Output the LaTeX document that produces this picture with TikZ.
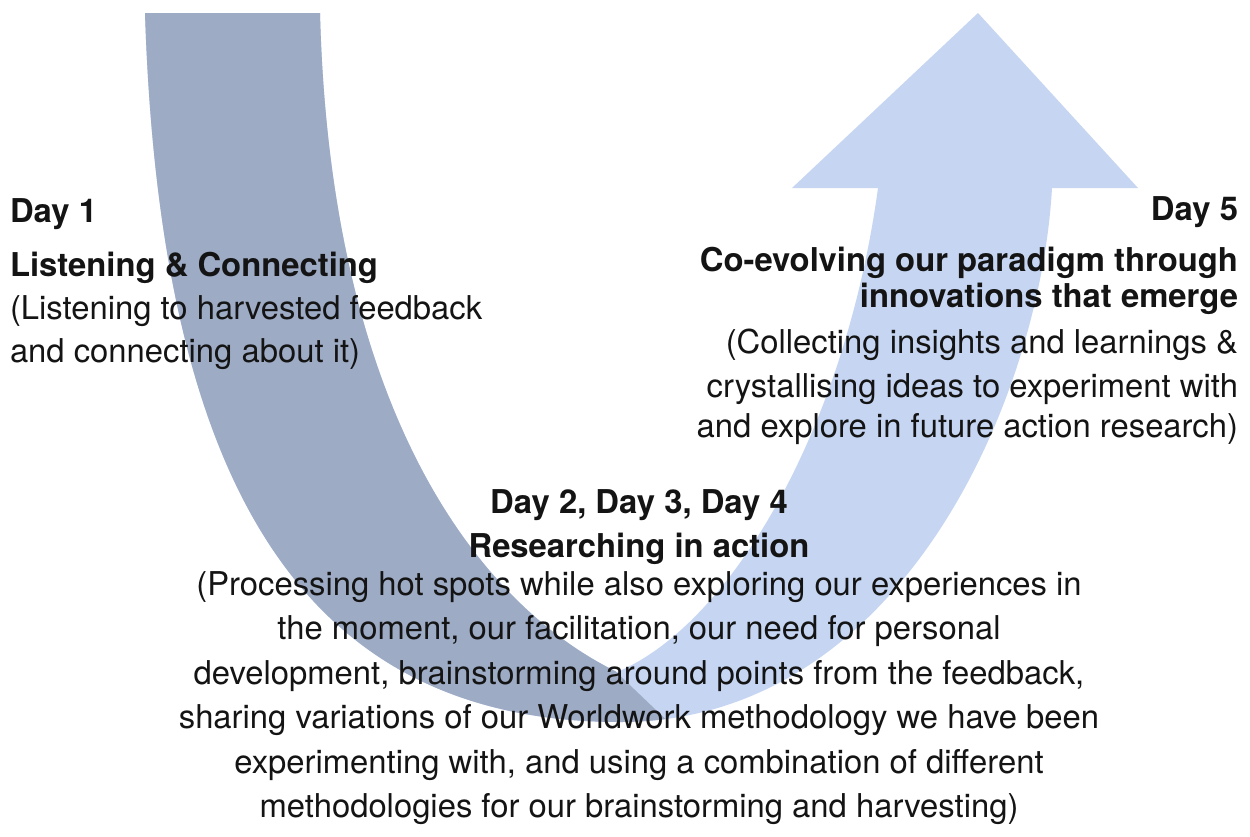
\documentclass[tikz,border=0pt]{standalone}
\usepackage{fontspec}
\setmainfont{TeX Gyre Heros}
\definecolor{darkband}{HTML}{9DABC5}
\definecolor{lightband}{HTML}{C6D6F2}
\definecolor{txt}{HTML}{141414}
\begin{document}
\begin{tikzpicture}[x=1pt,y=-1pt,
  lbl/.style={inner sep=0pt,outer sep=0pt,text=txt,font=\fontsize{32.8}{40}\selectfont},
  hd/.style={lbl,font=\fontsize{32.8}{40}\selectfont\bfseries},
  lft/.style={anchor=base west},
  rgt/.style={anchor=base east},
  ctr/.style={anchor=base}]
\useasboundingbox (0,0) rectangle (1250,836);
\fill[white] (0,0) rectangle (1250,836);
\def\arrowpath{
  (145,13) .. controls (160,480) and (300,722) .. (620,722)
  .. controls (900,722) and (1040,400) .. (1052,188)
  -- (1138,188) -- (978,13) -- (792,188) -- (878,188)
  .. controls (845,430) and (730,625) .. (617,672)
  .. controls (470,600) and (330,400) .. (320,13)
  -- cycle}
\fill[lightband] \arrowpath;
\begin{scope}
  \clip (0,0) -- (612,0) -- (612,668) -- (700,752) -- (0,752) -- cycle;
  \fill[darkband] \arrowpath;
\end{scope}
% Left block
\node[hd,lft] (l1) at (10,222) {Day 1};
\node[hd,lft] (l2) at (10,276) {Listening \& Connecting};
\node[lbl,lft] (l3) at (10,319) {(Listening to harvested feedback};
\node[lbl,lft] (l4) at (10,362) {and connecting about it)};
% Right block
\node[hd,rgt] (r1) at (1238,220) {Day 5};
\node[hd,rgt] (r2) at (1238,271) {Co-evolving our paradigm through};
\node[hd,rgt] (r3) at (1238,307) {innovations that emerge};
\node[lbl,rgt] (r4) at (1238,353) {(Collecting insights and learnings \&};
\node[lbl,rgt] (r5) at (1238,397) {crystallising ideas to experiment with};
\node[lbl,rgt] (r6) at (1238,437) {and explore in future action research)};
% Centre block
\node[hd,ctr] (c1) at (639,513) {Day 2, Day 3, Day 4};
\node[hd,ctr] (c2) at (639,557) {Researching in action};
\node[lbl,ctr] (c3) at (639,595) {(Processing hot spots while also exploring our experiences in};
\node[lbl,ctr] (c4) at (639,639) {the moment, our facilitation, our need for personal};
\node[lbl,ctr] (c5) at (639,684) {development, brainstorming around points from the feedback,};
\node[lbl,ctr] (c6) at (639,728) {sharing variations of our Worldwork methodology we have been};
\node[lbl,ctr] (c7) at (639,773) {experimenting with, and using a combination of different};
\node[lbl,ctr] (c8) at (639,817) {methodologies for our brainstorming and harvesting)};
\end{tikzpicture}
\end{document}
